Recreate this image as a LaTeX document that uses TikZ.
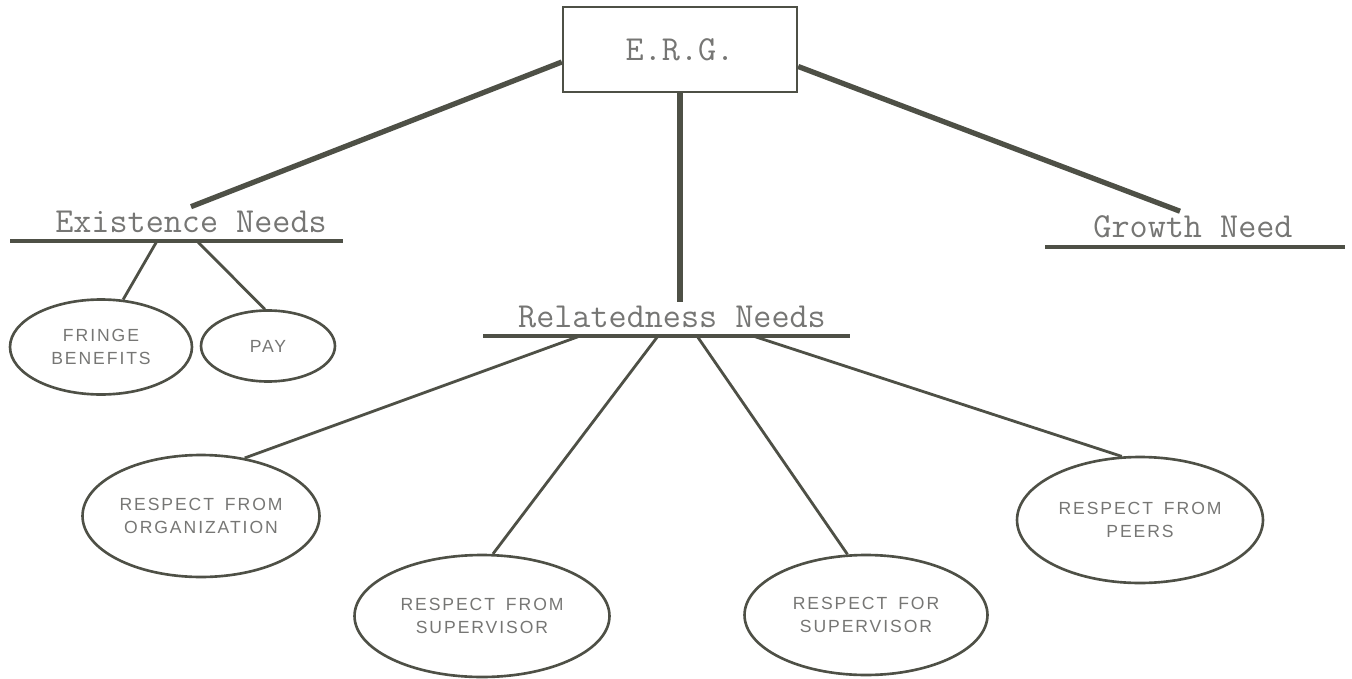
\documentclass[tikz,border=0pt]{standalone}
\usepackage{fontspec}
\usepackage{tikz}
\usetikzlibrary{shapes.geometric}

\newfontfamily\capsfont[LetterSpace=11, WordSpace=1.6]{Liberation Sans}
\definecolor{ink}{RGB}{78,80,70}
\definecolor{typed}{RGB}{118,118,116}

\begin{document}
\begin{tikzpicture}[x=0.02cm, y=-0.02cm,
  headline/.style={anchor=base, inner sep=2pt, text=typed, font=\fontsize{20}{24}\selectfont\ttfamily},
  rulebar/.style={draw=ink, line width=2pt, inner sep=0pt, minimum height=0pt},
  need/.style={ellipse, draw=ink, line width=1.5pt, inner sep=0pt, align=center, text=typed, font=\capsfont\fontsize{10}{13}\selectfont},
  stem/.style={draw=ink, line width=3pt},
  twig/.style={draw=ink, line width=1.6pt}]

\useasboundingbox (0,0) rectangle (1352,679);

\node[draw=ink, line width=1.4pt, minimum width=4.68cm, minimum height=1.70cm, inner sep=0pt, text=typed, font=\fontsize{20}{24}\selectfont\ttfamily] (erg) at (680,49.5) {E.R.G.};

\node[headline] (exist)   at (191,232)  {Existence Needs};
\node[headline] (related) at (672,327)  {Relatedness Needs};
\node[headline] (growth)  at (1193,237) {Growth Need};

\node[rulebar, minimum width=6.66cm] (exist-u)   at (176.5,241) {};
\node[rulebar, minimum width=7.34cm] (related-u) at (666.5,336) {};
\node[rulebar, minimum width=6.00cm] (growth-u)  at (1195,247)  {};

\node[need, minimum width=3.64cm, minimum height=1.90cm] (fringe)  at (101,347)  {FRINGE\\BENEFITS};
\node[need, minimum width=2.68cm, minimum height=1.42cm] (pay)     at (268,346)  {PAY};
\node[need, minimum width=4.74cm, minimum height=2.44cm] (org)     at (201,516)  {RESPECT FROM\\ORGANIZATION};
\node[need, minimum width=5.10cm, minimum height=2.44cm] (supfrom) at (482,616)  {RESPECT FROM\\SUPERVISOR};
\node[need, minimum width=4.86cm, minimum height=2.40cm] (supfor)  at (866,615)  {RESPECT FOR\\SUPERVISOR};
\node[need, minimum width=4.92cm, minimum height=2.52cm] (peers)   at (1140,520) {RESPECT FROM\\PEERS};

\draw[stem] ([yshift=-0.25cm]erg.west) -- (exist.north);
\draw[stem] ([yshift=-0.34cm]erg.east) -- ([xshift=-0.26cm]growth.north);
\draw[stem] (erg.south) -- (erg.south |- related.north);

\draw[twig] ([xshift=-0.39cm]exist-u.center) -- (fringe.65);
\draw[twig] ([xshift=0.41cm]exist-u.center)  -- (pay.95);

\draw[twig] ([xshift=-1.73cm]related-u.center) -- (org.53);
\draw[twig] ([xshift=-0.17cm]related-u.center) -- (supfrom.80);
\draw[twig] ([xshift=0.61cm]related-u.center)  -- (supfor.107);
\draw[twig] ([xshift=1.73cm]related-u.center)  -- (peers.106);

\end{tikzpicture}
\end{document}
